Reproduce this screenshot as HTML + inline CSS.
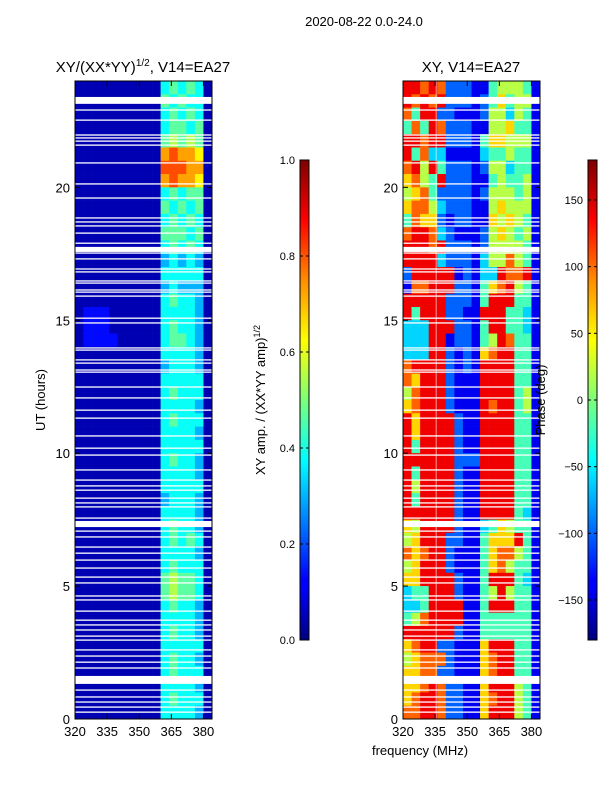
<!DOCTYPE html>
<html><head><meta charset="utf-8">
<style>
html,body{margin:0;padding:0;background:#fff;}
svg{display:block;font-family:"Liberation Sans",sans-serif;}
</style></head>
<body>
<svg id="fig" width="600" height="800" viewBox="0 0 600 800" xmlns="http://www.w3.org/2000/svg">
<defs>
<linearGradient id="jet" x1="0" y1="1" x2="0" y2="0">
<stop offset="0" stop-color="#00007f"/><stop offset="0.11" stop-color="#0000ff"/>
<stop offset="0.125" stop-color="#0000ff"/><stop offset="0.34" stop-color="#00dcff"/>
<stop offset="0.375" stop-color="#00ffff"/><stop offset="0.5" stop-color="#7dff7a"/>
<stop offset="0.625" stop-color="#ffff00"/><stop offset="0.75" stop-color="#ff8c00"/>
<stop offset="0.875" stop-color="#ff0000"/><stop offset="1" stop-color="#7f0000"/>
</linearGradient>
</defs>
<text x="364" y="26" font-size="13" text-anchor="middle">2020-08-22 0.0-24.0</text>
<text x="143" y="72" font-size="15" text-anchor="middle">XY/(XX*YY)<tspan font-size="10" dy="-6">1/2</tspan><tspan dy="6">, V14=EA27</tspan></text>
<text x="471" y="72" font-size="15" text-anchor="middle">XY, V14=EA27</text>
<g id="ampPanel"></g>
<g id="phasePanel"></g>
<g id="axes"></g>
<rect x="300" y="160" width="9" height="480" fill="url(#jet)" stroke="#000" stroke-width="1"/>
<rect x="588" y="160" width="9" height="480" fill="url(#jet)" stroke="#000" stroke-width="1"/>
<g id="cbticks"></g>
<text transform="translate(265,400) rotate(-90)" font-size="13" text-anchor="middle">XY amp. / (XX*YY amp)<tspan font-size="9" dy="-5">1/2</tspan></text>
<text transform="translate(545,400) rotate(-90)" font-size="13" text-anchor="middle">Phase (deg)</text>
<text transform="translate(45,400) rotate(-90)" font-size="13" text-anchor="middle">UT (hours)</text>
<text x="420" y="755" font-size="13" text-anchor="middle">frequency (MHz)</text>
</svg>
<script>
const freqStart = 320, freqStep = 4, nChan = 16;
const xTicks = [320, 335, 350, 365, 380];
const yTicks = [0, 5, 10, 15, 20];
const ampTicks = [0.0, 0.2, 0.4, 0.6, 0.8, 1.0];
const phaseTicks = [-150, -100, -50, 0, 50, 100, 150];
// rows from 24h (top) down to 0h, 0.5 h each; digit d -> amp 0.05 + d/12
const ampRows = [
"0000000000454540","0000000000545440","0000000000454540","0000000000455450",
"0000000000565650","0000000000898870","0000000000999880","0000000000898870",
"0000000000454550","0000000000545450","0000000000454540","0000000000555450",
"0000000000454540","0000000000343430","0000000000444440","0000000000343330",
"0000000000454430","0111000000444430","0111000000454430","0111100000455430",
"0000000000444430","0000000000344430","0000000000444440","0000000000454440",
"0000000000444430","0000000000454440","0000000000444430","0000000000444440",
"0000000000454430","0000000000444430","0000000000444440","0000000000344430",
"0000000000444430","0000000000454430","0000000000454540","0000000000444430",
"0000000000454440","0000000000565540","0000000000565540","0000000000454430",
"0000000000444430","0000000000454430","0000000000444440","0000000000454430",
"0000000000454440","0000000000444430","0000000000454440","0000000000444430"];
// digit d -> phase -180 + d*40 deg
const phaseRows = [
"8878722211455541","8787822212464551","7488221112553541","4748722211556441",
"8878822214665551","8473311113445441","7858422212553441","6754822211454451",
"5674222212555451","6775322211565551","4766212211656541","7887321112565451",
"8887822212555541","8888322213557541","2888881213387781","1778882214678541",
"8888822214888441","8488822118884431","3338882214884431","3338812214587441",
"3338821216788441","7888821218888441","7688821118888441","5788821118888451",
"6788821118788451","8688882118888441","8688882118888441","8488882118888441",
"8888882228888441","8488882118888441","8588882118888441","8488882118888441",
"8888882118888431","6588882113465441","5688822114666841","7678821114677541",
"5688821114675441","6688882114888431","3448882114585441","3348888114888441",
"4578888114444441","8888882114444441","6788221116888441","5677721116788441",
"6677221116788441","6678722116888541","6788722116788541","7788722116888541"];
const gapHours = [22.91,22.53,21.97,21.86,21.74,21.59,20.92,20.13,19.60,18.85,18.70,18.55,18.28,17.90,17.53,17.31,16.93,16.82,16.48,16.40,16.14,16.06,15.91,15.08,14.90,13.96,13.88,13.51,13.39,13.13,13.05,12.49,12.08,11.62,11.32,10.65,10.19,9.93,9.37,8.99,8.77,8.61,8.31,8.13,7.98,7.56,7.07,6.85,6.47,6.24,5.98,5.68,5.34,5.12,4.63,4.48,4.06,3.72,3.54,3.35,3.12,2.97,2.60,2.37,2.14,1.92,1.09,0.83,0.64,0.45,0.26];
const gapBands = [[23.14,23.40],[17.57,17.76],[7.22,7.45],[1.32,1.62]];

const NS='http://www.w3.org/2000/svg';
const plotTop=81, plotBot=719, fMin=320, fMax=384;
const panels=[{x0:75,x1:212},{x0:403,x1:540}];
function yOf(h){return plotBot-(h/24)*(plotBot-plotTop);}
function xOf(p,f){return p.x0+(f-fMin)/(fMax-fMin)*(p.x1-p.x0);}
function clip(v){return Math.max(0,Math.min(1,v));}
function jet(t){const r=clip(1.5-Math.abs(4*t-3)),g=clip(1.5-Math.abs(4*t-2)),b=clip(1.5-Math.abs(4*t-1));
 return 'rgb('+Math.round(r*255)+','+Math.round(g*255)+','+Math.round(b*255)+')';}
function mk(tag,attrs,parent){const e=document.createElementNS(NS,tag);for(const k in attrs)e.setAttribute(k,attrs[k]);parent.appendChild(e);return e;}

function drawHeat(gid,p,rows,norm){
 const g=document.getElementById(gid);
 const nRows=rows.length, dh=24/nRows;
 rows.forEach((row,r)=>{
  const hTop=24-r*dh, hBot=hTop-dh;
  for(let c=0;c<nChan;c++){
   const d=parseInt(row[c]);
   const f0=freqStart+c*freqStep, f1=f0+freqStep;
   const rc=mk('rect',{x:xOf(p,f0),y:yOf(hTop),width:xOf(p,f1)-xOf(p,f0)+0.3,height:yOf(hBot)-yOf(hTop)+0.3,fill:jet(norm(d))},g);
   
   
  }
 });
 gapHours.forEach(h=>{
  const l=mk('rect',{x:p.x0,y:yOf(h)-0.6,width:p.x1-p.x0,height:1.3,fill:'#fff'},g);
  
  
 });
 gapBands.forEach(b=>{
  const l=mk('rect',{x:p.x0,y:yOf(b[1]),width:p.x1-p.x0,height:yOf(b[0])-yOf(b[1]),fill:'#fff'},g);
  
  
 });
}
drawHeat('ampPanel',panels[0],ampRows,d=>0.05+d/12);
drawHeat('phasePanel',panels[1],phaseRows,d=>((-180+d*40)+180)/360);
(function(){const g=document.getElementById('phasePanel');const x=xOf(panels[1],335.5);
 const l=mk('line',{x1:x,x2:x,y1:plotTop,y2:plotBot,stroke:'rgba(255,255,255,0.6)','stroke-width':1},g);
 
 })();

const ax=document.getElementById('axes');
panels.forEach((p,i)=>{
 const fr=mk('rect',{x:p.x0,y:plotTop,width:p.x1-p.x0,height:plotBot-plotTop,fill:'none',stroke:'#000','stroke-width':1},ax);
 
 
 xTicks.forEach(f=>{const x=xOf(p,f);
  mk('line',{x1:x,x2:x,y1:plotBot,y2:plotBot-5,stroke:'#000'},ax);
  mk('line',{x1:x,x2:x,y1:plotTop,y2:plotTop+5,stroke:'#000'},ax);
  const t=mk('text',{x:x,y:plotBot+17,'font-size':13,'text-anchor':'middle'},ax);t.textContent=f;
  
  
 });
 yTicks.forEach(h=>{const y=yOf(h);
  mk('line',{x1:p.x0,x2:p.x0+5,y1:y,y2:y,stroke:'#000'},ax);
  mk('line',{x1:p.x1,x2:p.x1-5,y1:y,y2:y,stroke:'#000'},ax);
  const t=mk('text',{x:p.x0-5,y:y+5,'font-size':13,'text-anchor':'end'},ax);t.textContent=h;
  
  
 });
});
const cb=document.getElementById('cbticks');
ampTicks.forEach(v=>{const y=640-v*480;
 mk('line',{x1:300,x2:303,y1:y,y2:y,stroke:'#000'},cb);mk('line',{x1:309,x2:306,y1:y,y2:y,stroke:'#000'},cb);
 const t=mk('text',{x:295,y:y+4,'font-size':11,'text-anchor':'end'},cb);t.textContent=v.toFixed(1);
 
 
});
phaseTicks.forEach(v=>{const y=400-v*480/360;
 mk('line',{x1:588,x2:591,y1:y,y2:y,stroke:'#000'},cb);mk('line',{x1:597,x2:594,y1:y,y2:y,stroke:'#000'},cb);
 const t=mk('text',{x:583,y:y+4,'font-size':11,'text-anchor':'end'},cb);t.textContent=(v<0?'\u2212'+(-v):v);
 
 
});
</script>
</body></html>
